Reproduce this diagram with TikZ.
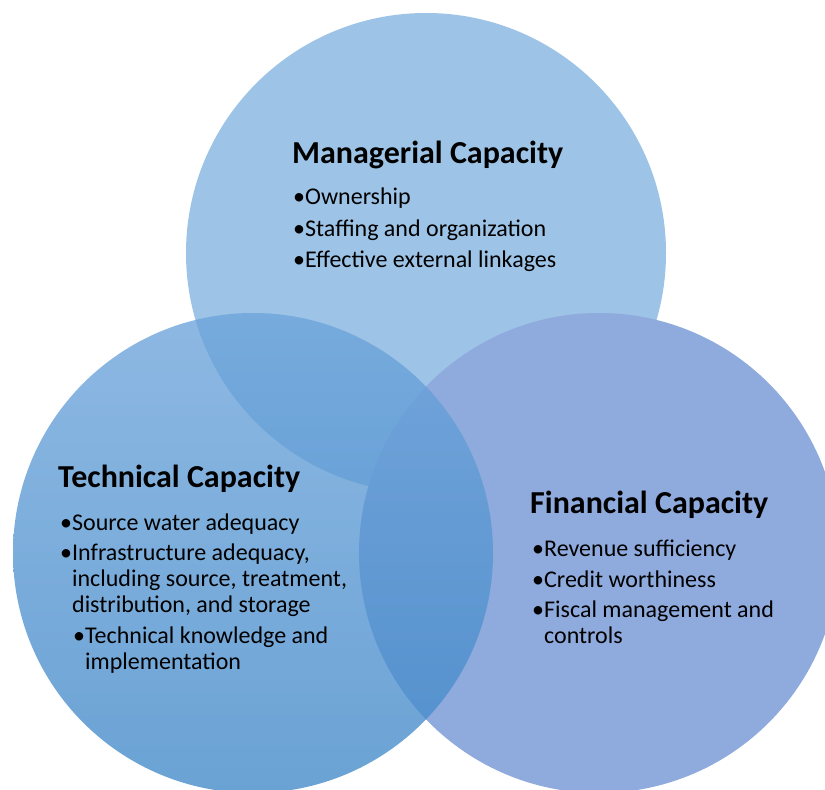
\documentclass[tikz,border=0pt]{standalone}
\usepackage{fontspec}
\setmainfont{Carlito}
\usepackage{tikz}
\usetikzlibrary{positioning}
\definecolor{mgrblue}{HTML}{9DC3E6}
\definecolor{finblue}{HTML}{8FAADC}
\definecolor{techtop}{HTML}{6DA4DB}
\definecolor{techbot}{HTML}{4088C8}
\newcommand{\lines}[1]{\begin{tabular}[t]{@{}l@{}}#1\end{tabular}}

\begin{document}
\begin{tikzpicture}[x=1pt, y=-1pt,
	head/.style={anchor=base west, inner sep=0pt, font=\fontsize{32}{38}\selectfont\bfseries},
	item/.style={anchor=base west, inner sep=0pt, font=\fontsize{24}{26}\selectfont}]

  \useasboundingbox (0,0) rectangle (825,790);

  \fill[mgrblue] (426,253) circle (240);
  \fill[finblue] (599,553) circle (240);
  \shade[top color=techtop, bottom color=techbot, opacity=0.78] (253,553) circle (240);

  \node[head] (mtitle) at (292,163) {Managerial Capacity};
  \node[item] (m1) at (293,204) {•Ownership};
  \node[item] (m2) at (293,236) {•Staffing and organization};
  \node[item] (m3) at (293,267) {•Effective external linkages};

  \node[head] (ttitle) at (58,487) {Technical Capacity};
  \node[item] (t1) at (60,530) {•Source water adequacy};
  \node[item] (t2) at (60,560) {•\lines{Infrastructure adequacy,\\including source, treatment,\\distribution, and storage}};
  \node[item] (t3) at (73,643) {•\lines{Technical knowledge and\\implementation}};

  \node[head] (ftitle) at (530,513) {Financial Capacity};
  \node[item] (f1) at (532,556) {•Revenue sufficiency};
  \node[item] (f2) at (532,587) {•Credit worthiness};
  \node[item] (f3) at (532,617) {•\lines{Fiscal management and\\controls}};
\end{tikzpicture}
\end{document}
